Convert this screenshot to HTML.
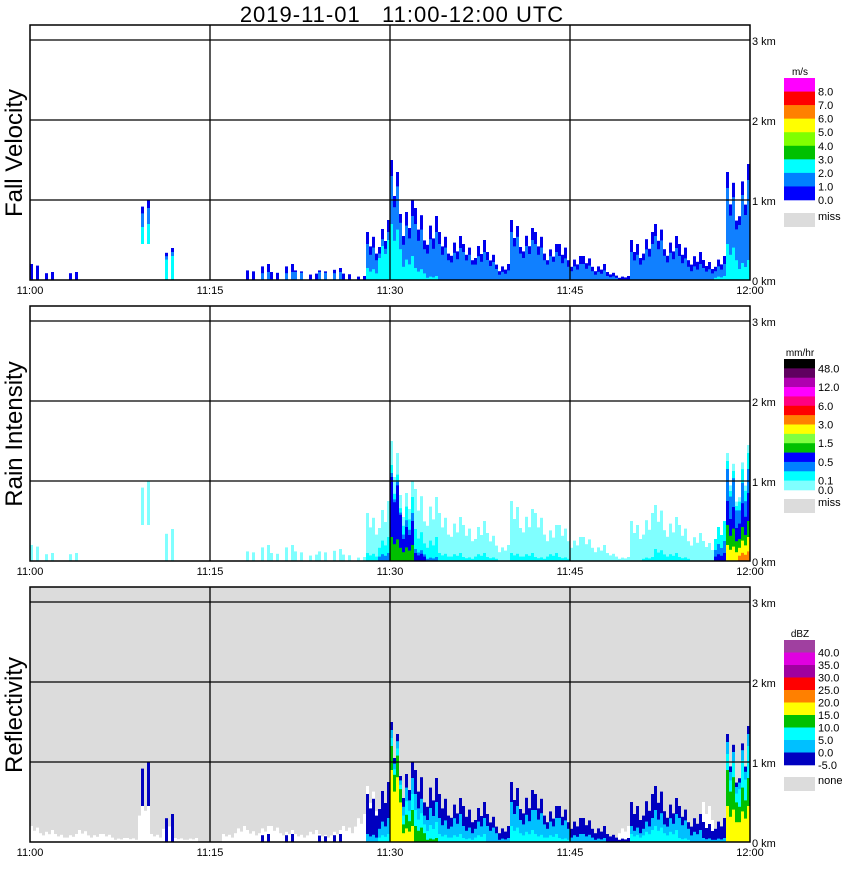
<!DOCTYPE html>
<html><head><meta charset="utf-8">
<style>
body{margin:0;background:#fff;width:850px;height:868px;overflow:hidden;font-family:"Liberation Sans",sans-serif;}
svg text{font-family:"Liberation Sans",sans-serif;}
</style></head>
<body>
<svg id="chart" width="850" height="868" xmlns="http://www.w3.org/2000/svg">
<text x="402" y="22" font-size="22" text-anchor="middle" letter-spacing="1" xml:space="preserve" style="white-space:pre">2019-11-01   11:00-12:00 UTC</text>
</svg>
<script>
// ---- data (minute index 0..59 from 11:00) ----
const timeTicks = ["11:00","11:15","11:30","11:45","12:00"];
const heightTicks = ["0 km","1 km","2 km","3 km"];
const echoTop = [0.2,0.1,0,0.1,0,0,0,0,0,1.0, 0,0.4,0,0,0,0,0,0,0.12,0.2, 0.1,0.2,0.12,0.08,0.12,0.15,0.08,0.05,0.6,0.75, 1.5,1.0,0.9,0.8,0.6,0.55,0.45,0.5,0.35,0.2, 0.75,0.65,0.6,0.45,0.45,0.3,0.3,0.2,0.1,0.05, 0.5,0.6,0.7,0.55,0.45,0.35,0.25,0.3,1.35,1.45];
const echoBase = [0,0,0,0,0,0,0,0,0,0.45, 0,0,0,0,0,0,0,0,0,0, 0,0,0,0,0,0,0,0,0,0, 0,0,0,0,0,0,0,0,0,0, 0,0,0,0,0,0,0,0,0,0, 0,0,0,0,0,0,0,0,0,0];
// fall velocity layers
const velBlue = [0,0,0,0,0,0,0,0,0,0.9, 0,0.35,0,0,0,0,0,0,0,0.1, 0,0.1,0.1,0,0.1,0.1,0,0,0.45,0.6, 1.3,0.8,0.7,0.6,0.45,0.4,0.35,0.35,0.25,0.12, 0.6,0.5,0.45,0.35,0.3,0.2,0.2,0.12,0.05,0, 0.35,0.45,0.55,0.4,0.3,0.2,0.15,0.2,1.15,1.25];
const velCyan = [0,0,0,0,0,0,0,0,0,0.7, 0,0.3,0,0,0,0,0,0,0,0, 0,0,0,0,0,0,0,0,0.15,0.5, 0.7,0.3,0.15,0.05,0,0,0,0,0,0, 0,0,0,0,0,0,0,0,0,0, 0,0,0,0,0,0,0,0.05,0.45,0.25];
// rain intensity layers
const rainCyan = [0,0,0,0,0,0,0,0,0,0, 0,0,0,0,0,0,0,0,0,0, 0,0,0,0,0,0,0,0,0.1,0.3, 1.2,0.8,0.4,0.3,0.1,0.1,0.05,0.1,0.05,0, 0.1,0.1,0.05,0.1,0.05,0,0,0,0,0, 0,0.05,0.15,0.1,0.05,0,0,0.5,1.25,1.35];
const rainBlue = [0,0,0,0,0,0,0,0,0,0, 0,0,0,0,0,0,0,0,0,0, 0,0,0,0,0,0,0,0,0,0.1, 1.1,0.6,0.15,0.05,0,0,0,0,0,0, 0,0,0,0,0,0,0,0,0,0, 0,0,0,0,0,0,0,0.25,1.15,1.15];
const rainDark = [0,0,0,0,0,0,0,0,0,0, 0,0,0,0,0,0,0,0,0,0, 0,0,0,0,0,0,0,0,0,0, 1.05,0.5,0.1,0,0,0,0,0,0,0, 0,0,0,0,0,0,0,0,0,0, 0,0,0,0,0,0,0,0.1,0.75,0.85];
const rainGreen = [0,0,0,0,0,0,0,0,0,0, 0,0,0,0,0,0,0,0,0,0, 0,0,0,0,0,0,0,0,0,0, 0.3,0.2,0,0,0,0,0,0,0,0, 0,0,0,0,0,0,0,0,0,0, 0,0,0,0,0,0,0,0,0.45,0.5];
const rainYellow = [0,0,0,0,0,0,0,0,0,0, 0,0,0,0,0,0,0,0,0,0, 0,0,0,0,0,0,0,0,0,0, 0,0,0,0,0,0,0,0,0,0, 0,0,0,0,0,0,0,0,0,0, 0,0,0,0,0,0,0,0,0.2,0.3];
const rainOrange = [0,0,0,0,0,0,0,0,0,0, 0,0,0,0,0,0,0,0,0,0, 0,0,0,0,0,0,0,0,0,0, 0,0,0,0,0,0,0,0,0,0, 0,0,0,0,0,0,0,0,0,0, 0,0,0,0,0,0,0,0,0,0.12];
// reflectivity layers
const reflWhite = [0.2,0.15,0.1,0.1,0.15,0.1,0.1,0.05,0.05,0.6, 0.1,0.3,0.05,0.05,0,0,0.1,0.2,0.15,0.2, 0.2,0.15,0.1,0.15,0.1,0.15,0.2,0.35,0.7,0.6, 0,0,0.3,0.2,0.1,0.15,0.1,0.05,0,0, 0,0,0,0,0,0,0.15,0.1,0.1,0.2, 0.1,0.1,0.1,0.05,0.1,0.1,0.5,0.3,0,0];
const reflDark = [0,0,0,0,0,0,0,0,0,1.0, 0,0.35,0,0,0,0,0,0,0,0.1, 0,0.1,0,0,0.08,0.1,0,0,0.6,0.75, 1.5,1.0,0.9,0.8,0.6,0.55,0.45,0.5,0.35,0.2, 0.75,0.65,0.6,0.45,0.45,0.3,0.3,0.2,0.1,0.05, 0.5,0.6,0.7,0.55,0.45,0.35,0.25,0.3,1.35,1.45];
const reflLight = [0,0,0,0,0,0,0,0,0,0, 0,0,0,0,0,0,0,0,0,0, 0,0,0,0,0,0,0,0,0.1,0.3, 1.4,0.8,0.6,0.5,0.3,0.35,0.2,0.3,0.2,0.05, 0.5,0.4,0.4,0.3,0.3,0.1,0.1,0.05,0,0, 0.2,0.3,0.4,0.35,0.3,0.15,0.05,0.05,1.25,1.35];
const reflCyan = [0,0,0,0,0,0,0,0,0,0, 0,0,0,0,0,0,0,0,0,0, 0,0,0,0,0,0,0,0,0,0.1, 1.3,0.6,0.4,0.25,0.1,0.1,0.05,0.1,0,0, 0.2,0.15,0.1,0.1,0.05,0,0,0,0,0, 0.1,0.15,0.2,0.15,0.05,0,0,0,1.1,1.2];
const reflGreen = [0,0,0,0,0,0,0,0,0,0, 0,0,0,0,0,0,0,0,0,0, 0,0,0,0,0,0,0,0,0,0, 1.2,0.4,0.2,0.05,0,0,0,0,0,0, 0,0,0,0,0,0,0,0,0,0, 0,0,0,0,0,0,0,0,0.9,0.8];
const reflYellow = [0,0,0,0,0,0,0,0,0,0, 0,0,0,0,0,0,0,0,0,0, 0,0,0,0,0,0,0,0,0,0, 0.9,0.2,0,0,0,0,0,0,0,0, 0,0,0,0,0,0,0,0,0,0, 0,0,0,0,0,0,0,0,0.45,0.45];

const velLabels = ["8.0","7.0","6.0","5.0","4.0","3.0","2.0","1.0","0.0"];
const velColors = ["#ff00ff","#ff0000","#ff8000","#ffff00","#80ff00","#00c000","#00ffff","#0080ff","#0000ff"];
const rainColors = ["#000000","#600060","#b000b0","#ff00ff","#ff0080","#ff0000","#ff8000","#ffff00","#80ff40","#00c000","#0000ff","#0080ff","#00ffff","#80ffff"];
const rainLabels = ["48.0","","12.0","","6.0","","3.0","","1.5","","0.5","","0.1","0.0"];
const reflColors = ["#a040a0","#e000e0","#a000a0","#ff0000","#ff8000","#ffff00","#00c000","#00ffff","#00c0ff","#0000c0"];
const reflLabels = ["40.0","35.0","30.0","25.0","20.0","15.0","10.0","5.0","0.0","-5.0"];

// ---- rendering ----
const NS="http://www.w3.org/2000/svg";
const svg=document.getElementById('chart');
const X0=30,X1=750;
const xScale=m=>X0+(X1-X0)*m/60;
const tex=[1,0.7,0.9,0.55,0.85,0.65];
function mk(tag,attrs,parent){const e=document.createElementNS(NS,tag);for(const k in attrs)e.setAttribute(k,attrs[k]);(parent||svg).appendChild(e);return e;}

function panel(top,title,bg,layers,bar,barLabels,unit,barTop,barH,missLabel,missY,name){
  const y0=top+255;
  const yScale=h=>y0-80*h;
  const g=mk('g',{});
  
  
  const bgr=mk('rect',{x:X0,y:top,width:X1-X0,height:255,fill:bg},g);
  
  
  layers.forEach(L=>{
    for(let m=0;m<60;m++){
      const v=L.data[m]; if(!v) continue;
      const base=L.base?L.base[m]:0;
      const sparse=m<28;
      for(let s=0;s<4;s++){
        if(sparse && !L.keep && (s+m)%2===1) continue;
        const h=Math.max(base+(v-base)*tex[(s+m*3)%6],0);
        const yt=yScale(h),yb=yScale(base);
        if(yb-yt<1) continue;
        const r=mk('rect',{x:xScale(m)+s*3,y:yt,width:3,height:yb-yt,fill:L.color},g);
        
        
      }
    }
  });
  for(let k=1;k<=3;k++){const l=mk('line',{x1:X0,x2:X1,y1:yScale(k),y2:yScale(k),stroke:'#000','stroke-width':1.3},g);
    }
  for(let k=1;k<=3;k++){const l=mk('line',{x1:xScale(k*15),x2:xScale(k*15),y1:top,y2:y0,stroke:'#000','stroke-width':1.3},g);
    }
  const fr=mk('rect',{x:X0,y:top,width:X1-X0,height:255,fill:'none',stroke:'#000','stroke-width':1.5},g);
  
  timeTicks.forEach((t,i)=>{const e=mk('text',{x:xScale(i*15),y:y0+14,'font-size':11,'text-anchor':'middle'},g);e.textContent=t;
    });
  heightTicks.forEach((t,i)=>{const e=mk('text',{x:752,y:yScale(i)+5,'font-size':11,'font-family':'Liberation Serif'},g);e.textContent=t;
    });
  const tt=mk('text',{x:0,y:0,'font-size':24,'text-anchor':'middle','font-family':'Liberation Serif',transform:`translate(22,${top+128}) rotate(-90)`},g);
  tt.textContent=title;
  const u=mk('text',{x:800,y:barTop-3,'font-size':10,'text-anchor':'middle','font-family':'Liberation Serif'},g);u.textContent=unit;
  
  const bh=barH/bar.length;
  bar.forEach((c,i)=>{const r=mk('rect',{x:784,y:barTop+i*bh,width:31,height:bh+0.3,fill:c},g);
    
    if(barLabels[i]){const t=mk('text',{x:818,y:barTop+(i+1)*bh+4,'font-size':11,'font-family':'Liberation Serif'},g);t.textContent=barLabels[i];
      }});
  const mr=mk('rect',{x:784,y:missY,width:31,height:14,fill:'#dcdcdc'},g);
  const mt=mk('text',{x:818,y:missY+7,'font-size':11,'font-family':'Liberation Serif'},g);mt.textContent=missLabel;
  
}

panel(25,'Fall Velocity','#ffffff',[
  {data:echoTop,base:echoBase,color:'#0000ee'},
  {data:velBlue,base:echoBase,color:'#1080ff'},
  {data:velCyan,base:echoBase,color:'#00ffff'}],
  velColors,velLabels,'m/s',78,122,'miss',213,'fall-velocity');
panel(306,'Rain Intensity','#ffffff',[
  {data:echoTop,base:echoBase,color:'#80ffff'},
  {data:rainCyan,color:'#00ffff'},
  {data:rainBlue,color:'#0080ff'},
  {data:rainDark,color:'#0000ee'},
  {data:rainGreen,color:'#00c000'},
  {data:rainYellow,color:'#ffff00'},
  {data:rainOrange,color:'#ff8000'}],
  rainColors,rainLabels,'mm/hr',359,131,'miss',499,'rain-intensity');
panel(587,'Reflectivity','#dcdcdc',[
  {data:reflWhite,color:'#ffffff',keep:true},
  {data:reflDark,base:echoBase,color:'#0000c0'},
  {data:reflLight,color:'#00c0ff'},
  {data:reflCyan,color:'#00ffff'},
  {data:reflGreen,color:'#00c000'},
  {data:reflYellow,color:'#ffff00'}],
  reflColors,reflLabels,'dBZ',640,125,'none',777,'reflectivity');
</script>
</body></html>
